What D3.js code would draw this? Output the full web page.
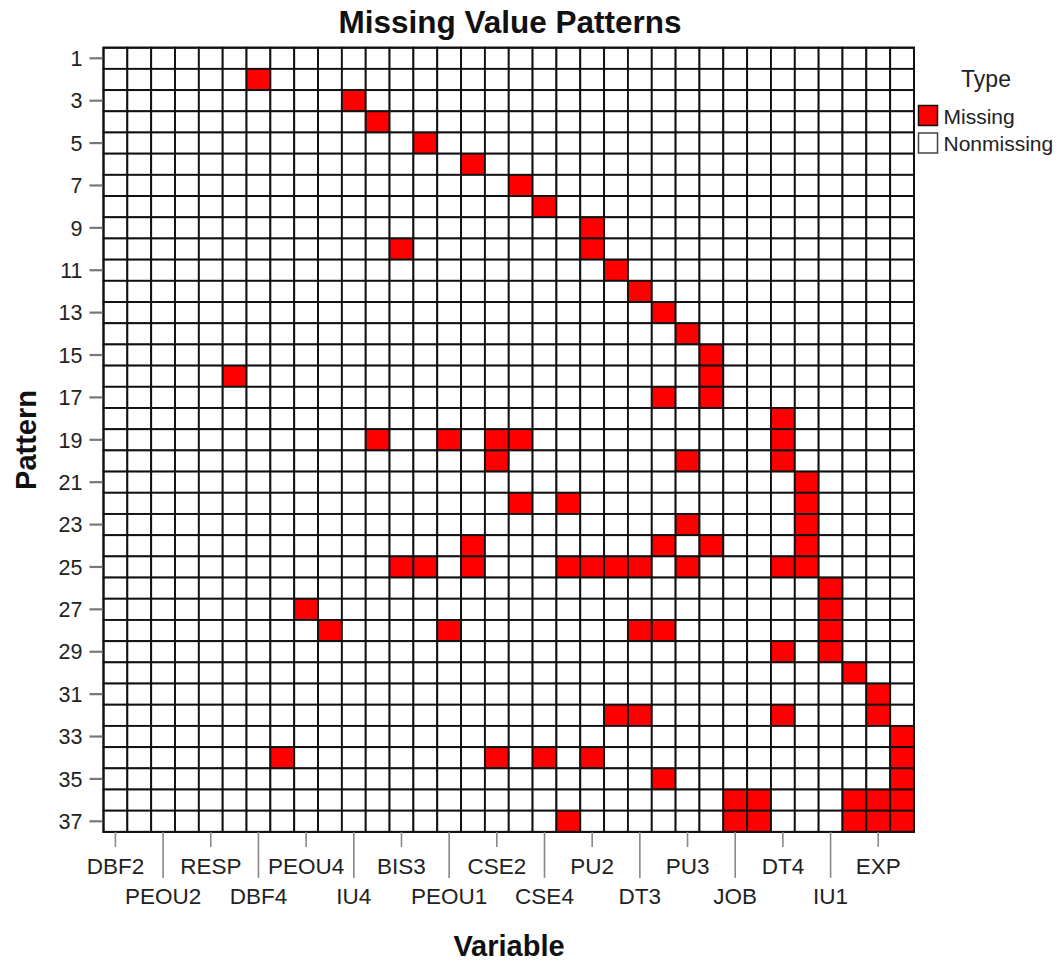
<!DOCTYPE html>
<html>
<head>
<meta charset="utf-8">
<script src="https://cdn.jsdelivr.net/npm/d3@7"></script>
<style>
  html, body { margin: 0; padding: 0; background: #fff; }
  svg { display: block; font-family: "Liberation Sans", Arial, sans-serif; }
</style>
</head>
<body>
<svg id="chart" width="1059" height="962"></svg>
<script>
// Variables (columns) in display order; only every other one carries a tick label.
const variableCount = 34;
const tickLabels = ["DBF2", "PEOU2", "RESP", "DBF4", "PEOU4", "IU4", "BIS3", "PEOU1",
  "CSE2", "CSE4", "PU2", "DT3", "PU3", "JOB", "DT4", "IU1", "EXP"];

// Pattern numbers (rows)
const patterns = d3.range(1, 38);

// For each pattern, the column indices of the variables that are missing
const missingColumns = [
  [],                                   // 1
  [6],                                  // 2
  [10],                                 // 3
  [11],                                 // 4
  [13],                                 // 5
  [15],                                 // 6
  [17],                                 // 7
  [18],                                 // 8
  [20],                                 // 9
  [12, 20],                             // 10
  [21],                                 // 11
  [22],                                 // 12
  [23],                                 // 13
  [24],                                 // 14
  [25],                                 // 15
  [5, 25],                              // 16
  [23, 25],                             // 17
  [28],                                 // 18
  [11, 14, 16, 17, 28],                 // 19
  [16, 24, 28],                         // 20
  [29],                                 // 21
  [17, 19, 29],                         // 22
  [24, 29],                             // 23
  [15, 23, 25, 29],                     // 24
  [12, 13, 15, 19, 20, 21, 22, 24, 28, 29], // 25
  [30],                                 // 26
  [8, 30],                              // 27
  [9, 14, 22, 23, 30],                  // 28
  [28, 30],                             // 29
  [31],                                 // 30
  [32],                                 // 31
  [21, 22, 28, 32],                     // 32
  [33],                                 // 33
  [7, 16, 18, 20, 33],                  // 34
  [23, 33],                             // 35
  [26, 27, 31, 32, 33],                 // 36
  [19, 26, 27, 31, 32, 33]              // 37
];

const legendTypes = ["Missing", "Nonmissing"];
const typeColors = ["#ff0000", "#ffffff"];

const svg = d3.select("#chart");
const plot = { left: 103.5, right: 914, top: 47.7, bottom: 831.9 };

const columns = d3.range(variableCount);
const x = d3.scaleBand().domain(columns).range([plot.left, plot.right]).padding(0);
const y = d3.scaleBand().domain(patterns).range([plot.top, plot.bottom]).padding(0);
const color = d3.scaleOrdinal().domain(legendTypes).range(typeColors);

// Build the cell table: one entry per pattern × variable
const cells = [];
patterns.forEach((p, i) => {
  const miss = new Set(missingColumns[i]);
  columns.forEach(c => cells.push({ pattern: p, column: c, type: miss.has(c) ? "Missing" : "Nonmissing" }));
});

svg.append("g")
  .selectAll("rect")
  .data(cells)
  .join("rect")
  .attr("x", d => x(d.column))
  .attr("y", d => y(d.pattern))
  .attr("width", x.bandwidth())
  .attr("height", y.bandwidth())
  .attr("fill", d => color(d.type))
  .attr("stroke", "#111")
  .attr("stroke-width", 1.9);

// Outer frame
svg.append("rect")
  .attr("x", plot.left).attr("y", plot.top)
  .attr("width", plot.right - plot.left).attr("height", plot.bottom - plot.top)
  .attr("fill", "none").attr("stroke", "#111").attr("stroke-width", 2);

// Y axis: odd pattern numbers
const yAxis = d3.axisLeft(y)
  .tickValues(patterns.filter(p => p % 2 === 1))
  .tickSize(13).tickPadding(7);
const gy = svg.append("g").attr("transform", `translate(${plot.left - 1},0)`).call(yAxis);
gy.select(".domain").remove();
gy.selectAll(".tick line").attr("stroke", "#777").attr("stroke-width", 2.2);
gy.selectAll(".tick text").attr("font-size", 21.5).attr("fill", "#222").attr("dy", "0.36em");

// X axis: labels on every other column, staggered on two rows
const labelled = columns.filter(c => c % 2 === 0);
const xg = svg.append("g").attr("transform", `translate(0,${plot.bottom})`);
const xt = xg.selectAll("g.xtick")
  .data(labelled)
  .join("g")
  .attr("class", "xtick")
  .attr("transform", c => `translate(${x(c) + x.bandwidth() / 2},0)`);
xt.append("line")
  .attr("y1", 0)
  .attr("y2", (c, i) => i % 2 === 0 ? 15 : 46)
  .attr("stroke", "#888").attr("stroke-width", 1.6);
xt.append("text")
  .attr("text-anchor", "middle")
  .attr("y", (c, i) => i % 2 === 0 ? 42 : 72)
  .attr("font-size", 22.5)
  .attr("fill", "#222")
  .text((c, i) => tickLabels[i]);

// Titles
svg.append("text")
  .attr("x", 510).attr("y", 33)
  .attr("text-anchor", "middle")
  .attr("font-size", 31.5).attr("font-weight", "bold").attr("fill", "#111")
  .text("Missing Value Patterns");

svg.append("text")
  .attr("x", 509).attr("y", 956)
  .attr("text-anchor", "middle")
  .attr("font-size", 29).attr("font-weight", "bold").attr("fill", "#111")
  .text("Variable");

svg.append("text")
  .attr("transform", "translate(36,440) rotate(-90)")
  .attr("text-anchor", "middle")
  .attr("font-size", 29).attr("font-weight", "bold").attr("fill", "#111")
  .text("Pattern");

// Legend
const legend = svg.append("g");
legend.append("text")
  .attr("x", 986).attr("y", 87)
  .attr("text-anchor", "middle")
  .attr("font-size", 23).attr("fill", "#222")
  .text("Type");
const li = legend.selectAll("g.item")
  .data(legendTypes)
  .join("g")
  .attr("class", "item")
  .attr("transform", (d, i) => `translate(918.5,${105.5 + i * 27.5})`);
li.append("rect")
  .attr("width", 19).attr("height", 20)
  .attr("fill", d => color(d))
  .attr("stroke", (d, i) => i === 0 ? "#111" : "#444")
  .attr("stroke-width", 1.5);
li.append("text")
  .attr("x", 25).attr("y", 18)
  .attr("font-size", 21).attr("fill", "#222")
  .text(d => d);
</script>
</body>
</html>
